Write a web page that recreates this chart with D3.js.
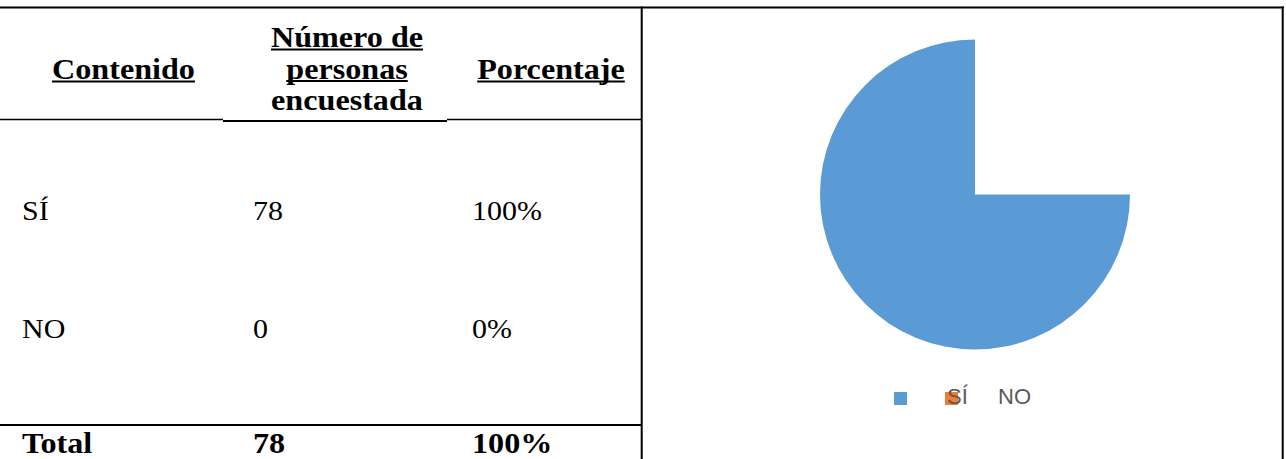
<!DOCTYPE html>
<html>
<head>
<meta charset="utf-8">
<script src="https://cdn.jsdelivr.net/npm/d3@7"></script>
<style>
html,body{margin:0;padding:0;background:#fff;}
svg{display:block;}
</style>
</head>
<body>
<svg id="chart" width="1286" height="459"></svg>
<script>
// ---- data ----
const headerContenido = ["Contenido"];
const headerNumero = ["Número de", "personas", "encuestada"];
const headerPorcentaje = ["Porcentaje"];
const categories = ["SÍ", "NO"];
const counts = [78, 0];
const percents = ["100%", "0%"];
const totalLabels = ["Total", "78", "100%"];
const colors = ["#5B9BD5", "#ED7D31"];

const svg = d3.select("#chart");
const serif = "'Liberation Serif','Times New Roman',serif";

function txt(g, s, x, y, opts) {
  const sx = opts.sx || 1.09;
  const gg = g.append("g").attr("transform", `translate(${x},${y}) scale(${sx},1)`);
  const t = gg.append("text").text(s)
    .attr("font-family", serif)
    .attr("font-size", opts.size)
    .attr("font-weight", opts.bold ? "bold" : "normal")
    .attr("text-anchor", opts.anchor || "start")
    .attr("fill", "#000");
  if (opts.underline) {
    const w = t.node().getComputedTextLength();
    const x0 = opts.anchor === "middle" ? -w / 2 : 0;
    gg.append("rect").attr("x", x0).attr("y", 1.5).attr("width", w).attr("height", 2).attr("fill", "#000");
  }
  return t;
}

const table = svg.append("g");
// header
headerContenido.forEach(s => txt(table, s, 123.5, 79, {size: 29.5, bold: true, anchor: "middle", underline: true}));
const numY = d3.scalePoint().domain(headerNumero).range([47, 110]);
headerNumero.forEach((s, i) => txt(table, s, 347, numY(s), {size: 29.5, bold: true, anchor: "middle", underline: i < 2}));
headerPorcentaje.forEach(s => txt(table, s, 551, 79, {size: 29.5, bold: true, anchor: "middle", underline: true}));

// body rows
const rowY = d3.scalePoint().domain(categories).range([220, 338]);
categories.forEach((c, i) => {
  txt(table, c, 22, rowY(c), {size: 27.5});
  txt(table, String(counts[i]), 253, rowY(c), {size: 27.5});
  txt(table, percents[i], 472, rowY(c), {size: 27.5});
});
// total row
const colX = [22, 253, 472];
totalLabels.forEach((s, i) => txt(table, s, colX[i], 453, {size: 29.5, bold: true}));

// lines
const ln = (x1, y1, x2, y2, w) => svg.append("line").attr("x1", x1).attr("y1", y1).attr("x2", x2).attr("y2", y2)
  .attr("stroke", "#000").attr("stroke-width", w);
ln(0, 7.5, 1284, 7.5, 2);
ln(0, 119.5, 223, 119.5, 1.5);
ln(447, 119.5, 641, 119.5, 1.5);
ln(223, 121, 447, 121, 2.2);
ln(0, 425, 641, 425, 2);
ln(641.7, 6.5, 641.7, 459, 2);
ln(1282.7, 6.5, 1282.7, 459, 2);

// pie
const pie = d3.pie().value(d => d).sort(null).startAngle(Math.PI / 2).endAngle(2 * Math.PI);
const arc = d3.arc().innerRadius(0).outerRadius(155);
const pg = svg.append("g").attr("transform", "translate(975,194.5)");
pg.selectAll("path").data(pie(counts)).join("path")
  .attr("d", arc)
  .attr("fill", (d, i) => colors[i]);

// legend
const lx = d3.scalePoint().domain(categories).range([894, 945]);
const lg = svg.append("g");
lg.selectAll("rect").data(categories).join("rect")
  .attr("x", d => lx(d)).attr("y", 392).attr("width", 13).attr("height", 13)
  .attr("fill", (d, i) => colors[i]);
lg.selectAll("text").data(categories).join("text")
  .attr("x", d => lx(d) + 53).attr("y", 404)
  .attr("font-family", "'Liberation Sans',Arial,sans-serif")
  .attr("font-size", 22)
  .attr("fill", "#595959")
  .text(d => d);
</script>
</body>
</html>
